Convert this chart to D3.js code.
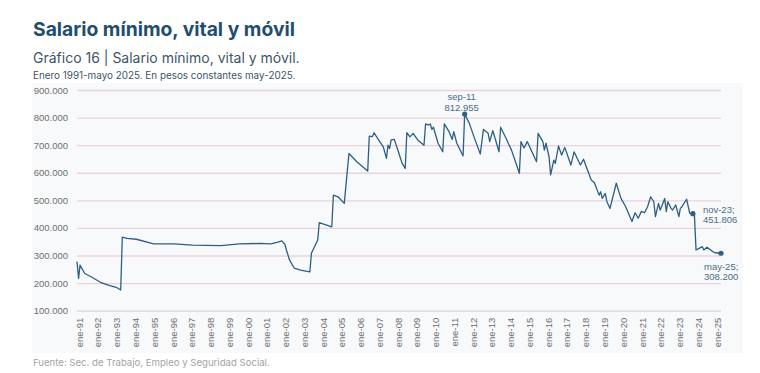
<!DOCTYPE html>
<html lang="es">
<head>
  <meta charset="UTF-8">
  <title>Salario mínimo, vital y móvil</title>
  <script src="https://d3js.org/d3.v7.min.js"></script>
  <style>
    body { margin: 0; background: #ffffff; }
    .title { font-family: Inter, sans-serif; font-weight: 700; font-size: 19.3px; fill: #1f4e6d; }
    .subtitle { font-family: Inter, sans-serif; font-size: 14px; fill: #3c5667; }
    .note { font-family: Inter, sans-serif; font-size: 9.9px; fill: #3c5667; }
    .source { font-family: Inter, sans-serif; font-size: 9.6px; fill: #a3a3a3; }
    .axis text { font-family: "Liberation Sans", Arial, sans-serif; font-size: 9.5px; fill: #6f6f6f; }
    .label { font-family: "Liberation Sans", Arial, sans-serif; font-size: 9.5px; fill: #4d6c82; }
  </style>
</head>
<body>
<div class="main"></div>
<script>
  // monthly values (pesos constantes may-2025)
  let months = [
    "1991-01","1991-02","1991-03","1991-06","1991-10","1992-04","1992-09","1993-02","1993-05","1993-06",
    "1993-09","1994-03","1995-02","1996-03","1997-03","1998-09","1999-09","2000-10","2001-05","2001-09",
    "2001-12","2002-02","2002-03","2002-05","2002-08","2002-12","2003-06","2003-07","2003-11","2003-12",
    "2004-08","2004-09","2004-12","2005-04","2005-07","2005-12","2006-07","2006-08","2006-10","2006-11",
    "2007-02","2007-05","2007-07","2007-08","2007-09","2007-10","2007-12","2008-03","2008-05","2008-07",
    "2008-08","2008-10","2008-12","2009-03","2009-07","2009-08","2009-10","2009-11","2009-12","2010-01",
    "2010-04","2010-07","2010-08","2010-11","2011-01","2011-02","2011-04","2011-08","2011-09","2011-12",
    "2012-03","2012-07","2012-09","2012-12","2013-01","2013-03","2013-07","2013-08","2013-12","2014-01",
    "2014-03","2014-08","2014-09","2014-11","2015-01","2015-07","2015-08","2015-11","2015-12","2016-01",
    "2016-03","2016-04","2016-06","2016-07","2016-09","2016-11","2017-01","2017-05","2017-07","2017-11",
    "2018-01","2018-04","2018-06","2018-08","2018-11","2018-12","2019-01","2019-03","2019-04","2019-06",
    "2019-10","2020-01","2020-04","2020-08","2020-10","2020-12","2021-02","2021-04","2021-06","2021-08",
    "2021-10","2021-11","2022-01","2022-02","2022-03","2022-05","2022-06","2022-07","2022-09","2022-10",
    "2022-12","2023-02","2023-03","2023-04","2023-07","2023-09","2023-11","2023-12","2024-01","2024-03",
    "2024-05","2024-06","2024-08","2024-11","2025-01","2025-05"
  ];
  let salary = [
    278000,217000,265000,235000,223000,203000,193000,185000,175000,367000,
    362000,359000,342000,342000,338000,336000,342000,344000,342000,348000,
    353000,340000,320000,284000,254000,247000,241000,308000,356000,419000,
    404000,519000,513000,489000,670000,640000,606000,733000,731000,745000,
    718000,694000,652000,700000,688000,719000,721000,670000,634000,616000,
    745000,730000,743000,719000,700000,777000,773000,777000,757000,765000,
    707000,676000,777000,749000,721000,749000,707000,661000,812955,779000,
    730000,668000,757000,743000,713000,753000,676000,765000,719000,705000,
    682000,598000,713000,690000,713000,640000,743000,713000,682000,707000,
    658000,592000,646000,634000,697000,664000,692000,628000,676000,628000,
    649000,604000,574000,564000,519000,531000,507000,525000,495000,471000,
    562000,507000,477000,423000,455000,435000,460000,455000,477000,513000,
    495000,441000,489000,465000,477000,507000,459000,495000,471000,465000,
    483000,441000,471000,477000,504000,453000,451806,445000,320000,326000,
    332000,320000,330000,317000,310000,308200
  ];

  let yTicks = [100000, 200000, 300000, 400000, 500000, 600000, 700000, 800000, 900000];
  let xTickYears = d3.range(1991, 2026);

  let notes = [
    { month: "2011-09", lines: ["sep-11", "812.955"] },
    { month: "2023-11", lines: ["nov-23;", "451.806"] },
    { month: "2025-05", lines: ["may-25;", "308.200"] }
  ];

  let width = 760;
  let height = 373;
  let parseMonth = d3.timeParse("%Y-%m");
  let es = d3.formatLocale({ decimal: ",", thousands: ".", grouping: [3], currency: ["$", ""] });
  let fmt = es.format(",.0f");

  let data = months.map((m, i) => ({ date: parseMonth(m), value: salary[i] }));

  let x = d3.scaleTime()
          .domain([parseMonth("1991-01"), parseMonth("2025-05")])
          .range([77, 721]);
  let y = d3.scaleLinear()
          .domain([100000, 900000])
          .range([310.7, 90]);

  let svg = d3.select(".main")
          .append("svg")
          .attr("width", width)
          .attr("height", height)
          .style("display", "block");

  // light panel behind the chart
  svg.append("rect")
          .attr("x", 32).attr("y", 83)
          .attr("width", 711).attr("height", 270)
          .attr("fill", "#f8f9fb");

  svg.append("text").attr("class", "title").attr("x", 33).attr("y", 36)
          .text("Salario mínimo, vital y móvil");
  svg.append("text").attr("class", "subtitle").attr("x", 33).attr("y", 62.5)
          .text("Gráfico 16 | Salario mínimo, vital y móvil.");
  svg.append("text").attr("class", "note").attr("x", 33).attr("y", 78.5)
          .text("Enero 1991-mayo 2025. En pesos constantes may-2025.");
  svg.append("text").attr("class", "source").attr("x", 33).attr("y", 366)
          .text("Fuente: Sec. de Trabajo, Empleo y Seguridad Social.");

  // y axis with gridlines
  let yAxis = d3.axisLeft(y)
          .tickValues(yTicks)
          .tickSize(-(x.range()[1] - x.range()[0]))
          .tickPadding(9)
          .tickFormat(fmt);
  let yg = svg.append("g")
          .attr("class", "axis")
          .attr("transform", `translate(${x.range()[0]},0)`)
          .call(yAxis);
  yg.select(".domain").remove();
  yg.selectAll(".tick line")
          .attr("stroke", d => d === yTicks[0] ? "#d6d6d6" : "#e8d3df")
          .attr("stroke-width", 1.3);

  // x axis, rotated labels
  let xAxis = d3.axisBottom(x)
          .tickValues(xTickYears.map(yr => new Date(yr, 0, 1)))
          .tickSize(0)
          .tickFormat(d => "ene-" + d3.timeFormat("%y")(d));
  let xg = svg.append("g")
          .attr("class", "axis")
          .attr("transform", `translate(0,${y(100000)})`)
          .call(xAxis);
  xg.select(".domain").remove();
  xg.selectAll("text")
          .attr("transform", "rotate(-90)")
          .attr("text-anchor", "end")
          .attr("x", -7)
          .attr("y", 0)
          .attr("dy", "0.55em");

  // the series
  let line = d3.line()
          .x(d => x(d.date))
          .y(d => y(d.value));
  svg.append("path")
          .datum(data)
          .attr("fill", "none")
          .attr("stroke", "#2d5f80")
          .attr("stroke-width", 1.3)
          .attr("stroke-linejoin", "round")
          .attr("d", line);

  // highlighted points and their labels
  let place = [
    { dx: -3, dy: [-14.5, -3], anchor: "middle" },
    { dx: 10, dy: [-0.5, 9.5], anchor: "start" },
    { dx: -17, dy: [16.5, 26.5], anchor: "start" }
  ];
  notes.forEach((n, i) => {
    let d = data.find(p => +p.date === +parseMonth(n.month));
    let px = x(d.date), py = y(d.value);
    svg.append("circle")
            .attr("cx", px).attr("cy", py).attr("r", 2.6)
            .attr("fill", "#2d5f80");
    n.lines.forEach((t, j) => {
      svg.append("text")
              .attr("class", "label")
              .attr("x", px + place[i].dx)
              .attr("y", py + place[i].dy[j])
              .attr("text-anchor", place[i].anchor)
              .text(t);
    });
  });
</script>
</body>
</html>
